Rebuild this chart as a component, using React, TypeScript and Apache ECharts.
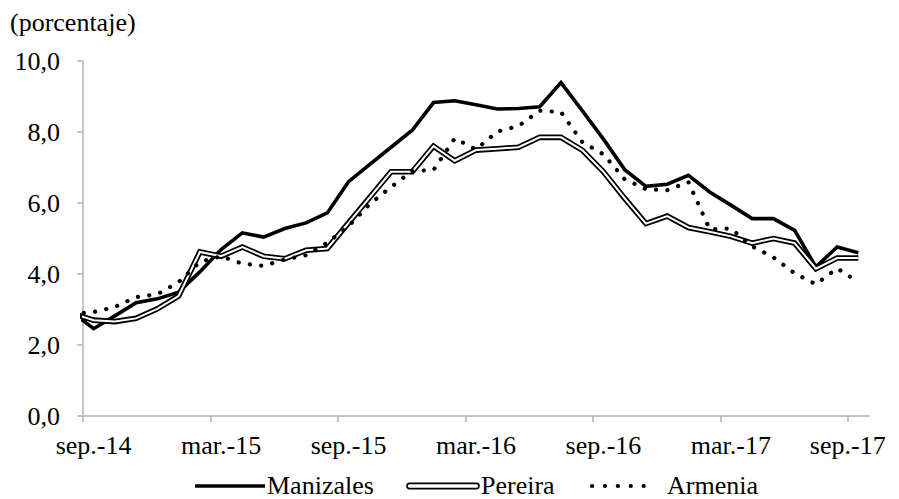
import React, { useEffect, useRef } from "react";
import * as echarts from "echarts";

// Months: the first (ago.-14) lies just outside the axis and is clipped.
const months = [
  "ago.-14", "sep.-14", "oct.-14", "nov.-14", "dic.-14",
  "ene.-15", "feb.-15", "mar.-15", "abr.-15", "may.-15", "jun.-15", "jul.-15", "ago.-15", "sep.-15", "oct.-15", "nov.-15", "dic.-15",
  "ene.-16", "feb.-16", "mar.-16", "abr.-16", "may.-16", "jun.-16", "jul.-16", "ago.-16", "sep.-16", "oct.-16", "nov.-16", "dic.-16",
  "ene.-17", "feb.-17", "mar.-17", "abr.-17", "may.-17", "jun.-17", "jul.-17", "ago.-17", "sep.-17",
];

const manizales = [
  2.92, 2.46, 2.82, 3.19, 3.3,
  3.49, 4.06, 4.69, 5.16, 5.04, 5.28, 5.44, 5.72, 6.6, 7.09, 7.57, 8.05,
  8.83, 8.88, 8.77, 8.65, 8.66, 8.71, 9.39, 8.6, 7.8, 6.94, 6.47, 6.53,
  6.78, 6.31, 5.94, 5.56, 5.56, 5.23, 4.2, 4.76, 4.6,
];

const pereira = [
  2.89, 2.7, 2.66, 2.75, 3.02,
  3.38, 4.62, 4.5, 4.76, 4.5, 4.43, 4.67, 4.72, 5.44, 6.16, 6.88, 6.88,
  7.6, 7.19, 7.49, 7.53, 7.57, 7.85, 7.85, 7.49, 6.88, 6.13, 5.42, 5.63,
  5.31, 5.19, 5.06, 4.87, 5.0, 4.87, 4.15, 4.45, 4.45,
];

const armenia = [
  2.88, 2.93, 3.07, 3.35, 3.43,
  3.77, 4.34, 4.5, 4.29, 4.23, 4.41, 4.53, 4.88, 5.35, 5.97, 6.45, 6.9,
  6.93, 7.82, 7.51, 8.01, 8.17, 8.6, 8.56, 7.72, 7.37, 6.67, 6.39, 6.36,
  6.59, 5.26, 5.28, 4.78, 4.47, 4.02, 3.71, 4.16, 3.77,
];

const seriesNames = ["Manizales", "Pereira", "Armenia"];
const yTicks = [0, 2, 4, 6, 8, 10];
const xTickPositions = [0, 6, 12, 18, 24, 30, 36];
const xLabelPositions = [0.5, 6.5, 12.5, 18.5, 24.5, 30.5, 36];
const unitLabel = "(porcentaje)";

const FONT = '"Liberation Serif", "Times New Roman", serif';
const AXIS_GRAY = "#b3b3b3";

const toPoints = (arr: number[]) => arr.map((v, i) => [i - 0.5, v]);

export default function App() {
  const ref = useRef<HTMLDivElement>(null);

  useEffect(() => {
    if (!ref.current) return;
    const chart = echarts.init(ref.current, null, { renderer: "svg" });

    const textStyle = (text: string, x: number, y: number) => ({
      type: "text",
      style: {
        text,
        x,
        y,
        fill: "#000",
        fontSize: 26,
        fontFamily: FONT,
        verticalAlign: "middle",
        align: "left",
      },
    });

    const legendY = 485;

    chart.setOption({
      animation: false,
      backgroundColor: "#fff",
      grid: { left: 83, right: 30, top: 61, bottom: 83, containLabel: false },
      xAxis: {
        type: "value",
        min: 0,
        max: 37,
        splitLine: { show: false },
        axisLine: { show: true, lineStyle: { color: AXIS_GRAY, width: 1.5 } },
        axisTick: {
          show: true,
          length: 6,
          inside: false,
          customValues: xTickPositions,
          lineStyle: { color: AXIS_GRAY, width: 1.5 },
        },
        axisLabel: {
          customValues: xLabelPositions,
          formatter: (v: number) => months[Math.floor(v) + 1],
          color: "#000",
          fontSize: 26,
          fontFamily: FONT,
          margin: 16,
        },
      },
      yAxis: {
        type: "value",
        min: 0,
        max: 10,
        interval: 2,
        splitLine: { show: false },
        axisLine: { show: true, lineStyle: { color: AXIS_GRAY, width: 1.5 } },
        axisTick: { show: true, length: 6, inside: false, lineStyle: { color: AXIS_GRAY, width: 1.5 } },
        axisLabel: {
          formatter: (v: number) => (yTicks.includes(v) ? v.toFixed(1).replace(".", ",") : ""),
          color: "#000",
          fontSize: 26,
          fontFamily: FONT,
          margin: 23,
        },
      },
      series: [
        {
          name: seriesNames[0],
          type: "line",
          data: toPoints(manizales),
          symbol: "none",
          clip: true,
          z: 2,
          lineStyle: { color: "#000", width: 3.6, join: "miter" },
        },
        {
          name: seriesNames[1],
          type: "line",
          data: toPoints(pereira),
          symbol: "none",
          clip: true,
          z: 3,
          lineStyle: { color: "#000", width: 5.6, join: "miter" },
        },
        {
          name: seriesNames[1] + " (interior)",
          type: "line",
          data: toPoints(pereira),
          symbol: "none",
          clip: true,
          z: 4,
          lineStyle: { color: "#fff", width: 2, join: "miter" },
        },
        {
          name: seriesNames[2],
          type: "line",
          data: toPoints(armenia),
          symbol: "none",
          clip: true,
          z: 5,
          lineStyle: { color: "#000", width: 4.2, type: [0.1, 11.3], cap: "round", join: "round" },
        },
      ],
      graphic: [
        textStyle(unitLabel, 10, 22.5),
        {
          type: "line",
          shape: { x1: 195, y1: legendY + 1, x2: 265, y2: legendY + 1 },
          style: { stroke: "#000", lineWidth: 3.6 },
        },
        textStyle(seriesNames[0], 267, legendY),
        {
          type: "rect",
          shape: { x: 407, y: legendY + 1 - 2.6, width: 72, height: 5.2, r: 2.6 },
          style: { stroke: "#000", lineWidth: 1.6, fill: "#fff" },
        },
        textStyle(seriesNames[1], 481, legendY),
        {
          type: "line",
          shape: { x1: 592, y1: legendY + 1, x2: 656, y2: legendY + 1 },
          style: { stroke: "#000", lineWidth: 4.2, lineDash: [0.1, 12.8], lineCap: "round" },
        },
        textStyle(seriesNames[2], 667, legendY),
      ],
    });

    return () => chart.dispose();
  }, []);

  return (
    <div
      ref={ref}
      style={{ position: "fixed", left: 0, top: 0, width: 899, height: 499, background: "#fff" }}
    />
  );
}
